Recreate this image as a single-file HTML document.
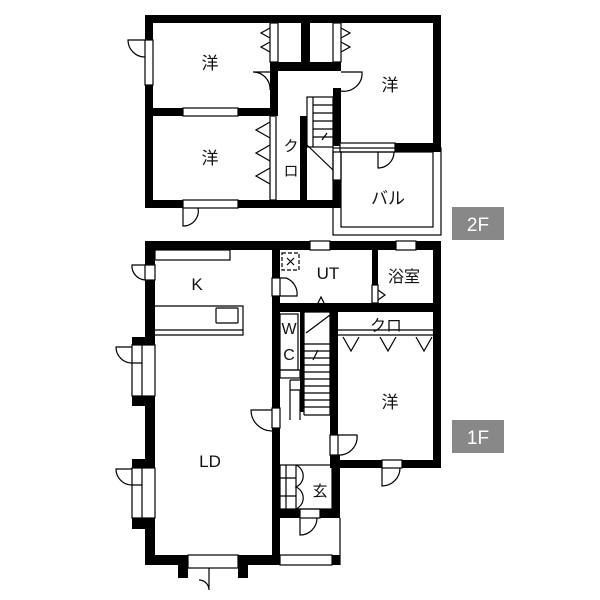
<!DOCTYPE html>
<html><head><meta charset="utf-8"><style>
html,body{margin:0;padding:0;background:#fff;width:600px;height:600px;overflow:hidden}
svg{display:block}
text{font-family:"Liberation Sans","Noto Sans CJK JP",sans-serif;fill:#111}
</style></head><body>
<svg width="600" height="600" viewBox="0 0 600 600" xmlns="http://www.w3.org/2000/svg">
<g fill="#000">
<rect x="145" y="15" width="296" height="8"/>
<rect x="145" y="15" width="8" height="193"/>
<rect x="145" y="200" width="195" height="8"/>
<rect x="433" y="15" width="8" height="137"/>
<rect x="153" y="108" width="125" height="8"/>
<rect x="270" y="62" width="71" height="9"/>
<rect x="301" y="23" width="9" height="39"/>
<rect x="270" y="71" width="8" height="45"/>
<rect x="300" y="116" width="7" height="84"/>
<rect x="333" y="88" width="8" height="58"/>
<rect x="395" y="143" width="46" height="9"/>
<rect x="333" y="180" width="8" height="28"/>
<rect x="145" y="241" width="296" height="9"/>
<rect x="145" y="241" width="10" height="324"/>
<rect x="145" y="555" width="135" height="10"/>
<rect x="178" y="555" width="10" height="23"/>
<rect x="238" y="555" width="10" height="23"/>
<rect x="132" y="337" width="23" height="8"/>
<rect x="132" y="396" width="23" height="10"/>
<rect x="132" y="459" width="23" height="9"/>
<rect x="132" y="518" width="23" height="11"/>
<rect x="272" y="250" width="8" height="315"/>
<rect x="280" y="303" width="161" height="9"/>
<rect x="372" y="250" width="6" height="53"/>
<rect x="433" y="241" width="8" height="227"/>
<rect x="330" y="312" width="8" height="156"/>
<rect x="338" y="460" width="103" height="8"/>
<rect x="300" y="312" width="4" height="100"/>
<rect x="272" y="509" width="68" height="9"/>
<rect x="332" y="455" width="8" height="63"/>
<rect x="332" y="555" width="8" height="10"/>
</g>
<g fill="#fff" stroke="#000" stroke-width="1.2">
<rect x="145" y="40" width="8" height="45"/>
<rect x="183" y="108" width="55" height="8"/>
<rect x="183" y="200" width="55" height="8"/>
<rect x="270" y="23" width="8" height="39"/>
<rect x="333" y="23" width="8" height="39"/>
<rect x="270" y="116" width="6" height="84"/>
<rect x="340" y="143" width="55" height="9"/>
<rect x="333" y="152" width="8" height="28"/>
<rect x="145" y="265" width="10" height="15"/>
<rect x="155" y="250" width="75" height="10"/>
<rect x="132" y="345" width="23" height="51"/>
<rect x="132" y="468" width="23" height="50"/>
<rect x="188" y="555" width="50" height="13"/>
<rect x="310" y="241" width="20" height="9"/>
<rect x="396" y="241" width="20" height="9"/>
<rect x="272" y="278" width="8" height="18"/>
<rect x="372" y="285" width="6" height="18"/>
<rect x="382" y="460" width="20" height="8"/>
<rect x="272" y="408" width="8" height="20"/>
<rect x="330" y="435" width="8" height="20"/>
<rect x="300" y="509" width="20" height="9"/>
<rect x="280" y="555" width="52" height="10"/>
</g>
<g fill="none" stroke="#000" stroke-width="1.2">
<path d="M142 345V396 M142 468V518 M340 518V565"/>
<rect x="333" y="148" width="108" height="87"/>
<rect x="341" y="152" width="92" height="75"/>
<rect x="307" y="97" width="26" height="50"/>
<path d="M313 97V147 M313 105H333 M313 113H333 M313 121H333 M313 129H333 M313 137H333 M307 145L333 170 M322 140L327 133"/>
<path d="M145 40H128 A17 17 0 0 0 145 57"/>
<path d="M270 72H253 A17 17 0 0 1 270 90"/>
<path d="M341 72H362 A18 18 0 0 1 341 91"/>
<path d="M183 208V226 A15 15 0 0 0 198 208"/>
<path d="M378 152V168 A16 16 0 0 0 394 152"/>
<path d="M270 28L261 33L270 38 M270 42L261 47L270 52"/>
<path d="M341 28L350 33L341 38 M341 42L350 47L341 52"/>
<path d="M270 122L256 130L270 138 M270 145L256 153L270 161 M270 168L256 176L270 184"/>
<path d="M155 306H243 V335 H155 M155 330H243"/>
<rect x="216" y="308" width="22" height="15" rx="1"/>
<path d="M338 330H433 M338 335H433"/>
<path d="M343 337L351 351L359 337 M380 337L388 351L396 337 M416 337L424 351L432 337"/>
<rect x="280" y="314" width="18" height="56"/>
<rect x="280" y="370" width="20" height="8"/>
<path d="M304 312H330 V415 H304 M304 312V415 M306 333L330 315 M304 344H330 M304 351H330 M304 358H330 M304 365H330 M304 372H330 M304 379H330 M304 386H330 M304 393H330 M304 400H330 M304 407H330 M290 380H304 M290 380V420 M290 390H300 V420 M300 402H304 M313 360L318 350"/>
<path d="M317 305L321 297L325 305Z"/>
<rect x="282" y="253" width="17" height="17" stroke-dasharray="4 2"/>
<path d="M287 258L294 265 M294 258L287 265"/>
<path d="M280 278H286 A17 17 0 0 1 297 296 H280"/>
<path d="M378 290L385 295L378 300"/>
<path d="M145 265H132 A14 14 0 0 0 145 280"/>
<path d="M132 347H116 A16 16 0 0 0 132 363 H142"/>
<path d="M132 469H116 A16 16 0 0 0 132 485 H142"/>
<path d="M272 410H251 A21 21 0 0 0 272 431"/>
<path d="M338 435H357 A18 18 0 0 1 338 455"/>
<path d="M382 468V486 A18 18 0 0 0 400 468"/>
<path d="M300 518V535 A17 17 0 0 0 317 518"/>
<path d="M209 568V590 A10 10 0 0 0 199 580"/>
<rect x="280" y="465" width="52" height="44"/>
<path d="M286 465V509 M296 465V509 M280 478H296 M280 496H296 M296 465 A12 12 0 0 1 296 487 A12 12 0 0 1 296 509"/>
</g>
<g font-size="17" text-anchor="middle">
<text x="210" y="69">洋</text>
<text x="390" y="91">洋</text>
<text x="210" y="164">洋</text>
<text x="291" y="151" font-size="15">ク</text>
<text x="291" y="176" font-size="15">ロ</text>
<text x="388" y="204">バル</text>
<text x="197" y="290">K</text>
<text x="328" y="279">UT</text>
<text x="404" y="282" font-size="16">浴室</text>
<text x="386" y="331" font-size="16">クロ</text>
<text x="289" y="334" font-size="16">W</text>
<text x="289" y="360" font-size="16">C</text>
<text x="390" y="408">洋</text>
<text x="210" y="467">LD</text>
<text x="320" y="496" font-size="15">玄</text>
</g>
<rect x="452" y="207" width="52" height="33" fill="#888"/>
<rect x="452" y="420" width="52" height="33" fill="#888"/>
<g font-size="19" text-anchor="middle">
<text x="478" y="231" style="fill:#fff">2F</text>
<text x="478" y="444" style="fill:#fff">1F</text>
</g>
</svg>
</body></html>
